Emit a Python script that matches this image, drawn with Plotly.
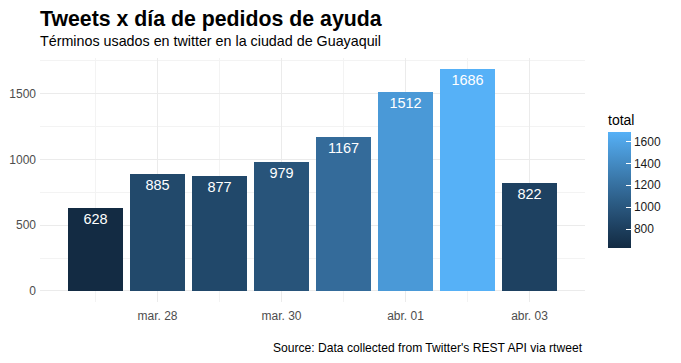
import plotly.graph_objects as go
import pandas as pd
import numpy as np

dates = ["2020-03-27", "2020-03-28", "2020-03-29", "2020-03-30",
         "2020-03-31", "2020-04-01", "2020-04-02", "2020-04-03"]
totals = [628, 885, 877, 979, 1167, 1512, 1686, 822]
x_tick_vals = ["2020-03-28", "2020-03-30", "2020-04-01", "2020-04-03"]
x_tick_text = ["mar. 28", "mar. 30", "abr. 01", "abr. 03"]
y_tick_vals = [0, 500, 1000, 1500]
cb_ticks = [800, 1000, 1200, 1400, 1600]

# ggplot2-like gradient (#132B43 -> #56B1F7) interpolated in Lab space
def srgb_to_lin(c):
    c = c / 255.0
    return np.where(c <= 0.04045, c / 12.92, ((c + 0.055) / 1.055) ** 2.4)

def lin_to_srgb(c):
    c = np.clip(c, 0, 1)
    return 255 * np.where(c <= 0.0031308, 12.92 * c, 1.055 * c ** (1 / 2.4) - 0.055)

M = np.array([[0.4124, 0.3576, 0.1805], [0.2126, 0.7152, 0.0722], [0.0193, 0.1192, 0.9505]])
Mi = np.linalg.inv(M)
wp = np.array([0.95047, 1.0, 1.08883])

def f(t):
    return np.where(t > (6 / 29) ** 3, np.cbrt(t), t / (3 * (6 / 29) ** 2) + 4 / 29)

def finv(t):
    return np.where(t > 6 / 29, t ** 3, 3 * (6 / 29) ** 2 * (t - 4 / 29))

def to_lab(rgb):
    xyz = M @ srgb_to_lin(np.array(rgb, float)) / wp
    fx, fy, fz = f(xyz)
    return np.array([116 * fy - 16, 500 * (fx - fy), 200 * (fy - fz)])

def from_lab(lab):
    L, a, b = lab
    fy = (L + 16) / 116
    xyz = np.array([finv(fy + a / 500), finv(fy), finv(fy - b / 200)]) * wp
    return lin_to_srgb(Mi @ xyz)

lo, hi = to_lab([0x13, 0x2B, 0x43]), to_lab([0x56, 0xB1, 0xF7])
colorscale = []
for t in np.linspace(0, 1, 11):
    r, g, b = from_lab(lo + (hi - lo) * t)
    colorscale.append([float(t), f"rgb({int(round(r))},{int(round(g))},{int(round(b))})"])

x_start = pd.Timestamp(dates[0]) - pd.Timedelta(days=0.895)
x_end = pd.Timestamp(dates[-1]) + pd.Timedelta(days=0.895)
ymax = max(totals)

# page body has an 8px margin; design in figure coordinates
W, H = 673, 355
PL, PR, PT, PB = 32, 577, 50, 294   # plot area in figure px
PH = PB - PT
PW = PR - PL

fig = go.Figure(go.Bar(
    x=dates, y=totals,
    width=0.9 * 86400000,
    text=[str(v) for v in totals],
    textposition="inside",
    insidetextanchor="end",
    textfont=dict(color="white", size=14.5, family="Liberation Sans, Arial"),
    marker=dict(
        color=totals, colorscale=colorscale,
        cmin=min(totals), cmax=max(totals),
        line=dict(width=0),
        colorbar=dict(
            title=dict(text="total", font=dict(size=14, color="#000000"), side="top"),
            tickvals=cb_ticks, ticks="inside", tickcolor="white", ticklen=5,
            tickfont=dict(size=12, color="#1a1a1a"),
            thickness=23, thicknessmode="pixels",
            len=137, lenmode="pixels",
            x=1 + 23 / PW, xanchor="left", xpad=0, ypad=0,
            yref="paper", y=(PB - 240) / PH, yanchor="bottom",
            outlinewidth=0,
        ),
    ),
    hoverinfo="x+y",
))

fig.update_layout(
    width=W, height=H,
    margin=dict(l=PL, r=W - PR, t=PT, b=H - PB, autoexpand=False),
    paper_bgcolor="white", plot_bgcolor="white",
    font=dict(family="Liberation Sans, Arial", color="#4d4d4d"),
    title=dict(
        text="<b>Tweets x día de pedidos de ayuda</b>",
        font=dict(size=21.3, color="#000000"),
        x=PL / W, xanchor="left", xref="container",
        y=1, yanchor="top", pad=dict(t=3, b=0, l=0, r=0),
    ),
    showlegend=False,
    bargap=0,
    annotations=[
        dict(text="Términos usados en twitter en la ciudad de Guayaquil",
             xref="paper", yref="paper", x=-2 / PW, y=1 + 17 / PH, xanchor="left",
             yanchor="middle", showarrow=False, font=dict(size=14.3, color="#000000")),
        dict(text="Source: Data collected from Twitter's REST API via rtweet",
             xref="paper", yref="paper", x=1, y=-46 / PH, xanchor="right",
             yanchor="middle", showarrow=False, font=dict(size=12.1, color="#000000")),
    ],
)

fig.update_xaxes(
    type="date", range=[x_start, x_end],
    tickvals=x_tick_vals, ticktext=x_tick_text,
    tickfont=dict(size=12, color="#4d4d4d"),
    showgrid=True, gridcolor="#ebebeb", gridwidth=1,
    minor=dict(dtick=86400000, tick0="2020-03-27", showgrid=True, gridcolor="#f3f3f3", gridwidth=0.6),
    zeroline=False, showline=False, ticks="", automargin=False,
    ticklabelstandoff=5,
)
fig.update_yaxes(
    range=[-0.05 * ymax, 1.05 * ymax],
    tickvals=y_tick_vals,
    tickfont=dict(size=12, color="#4d4d4d"),
    showgrid=True, gridcolor="#ebebeb", gridwidth=1,
    minor=dict(dtick=250, tick0=0, showgrid=True, gridcolor="#f3f3f3", gridwidth=0.6),
    zeroline=False, showline=False, ticks="", automargin=False,
    ticklabelstandoff=3,
)

fig.write_html("out.html")
